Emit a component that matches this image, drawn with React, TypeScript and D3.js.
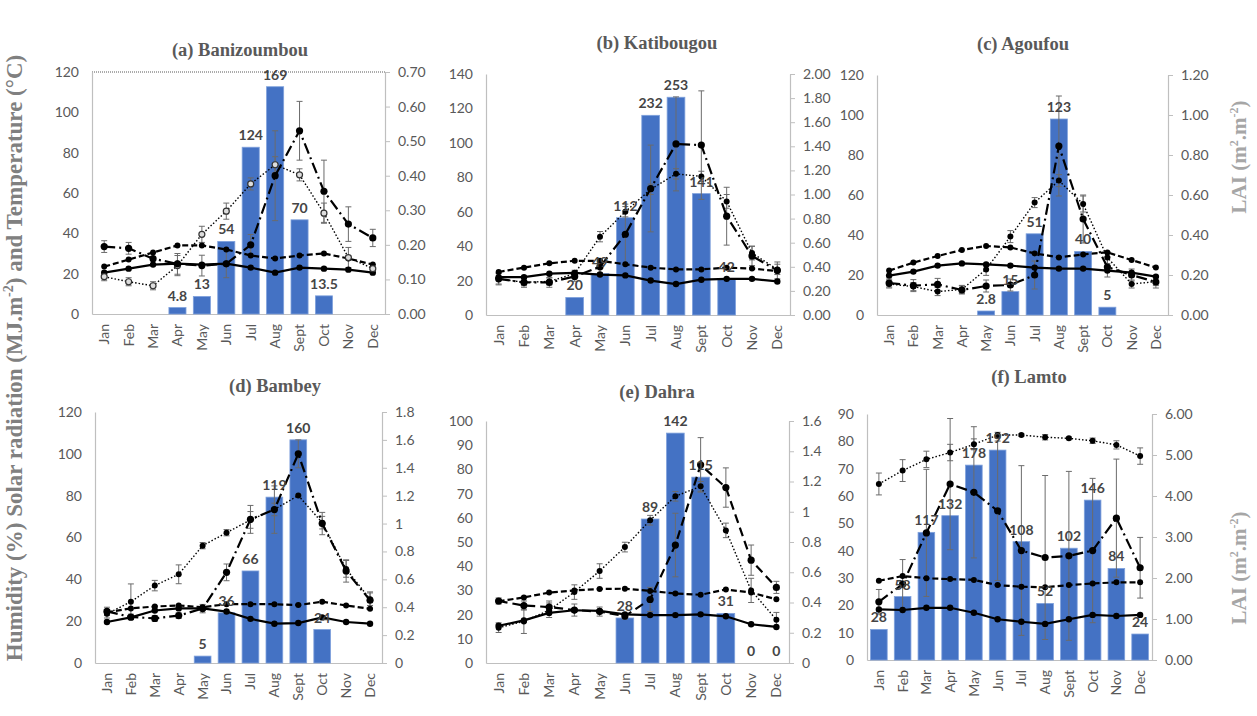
import React, { useEffect, useRef } from 'react'
import * as d3 from 'd3'

const months = ['Jan', 'Feb', 'Mar', 'Apr', 'May', 'Jun', 'Jul', 'Aug', 'Sept', 'Oct', 'Nov', 'Dec']

// (a) Banizoumbou
const banRain = [0, 0, 0, 3.2, 8.7, 36, 82.7, 112.7, 46.7, 9, 0, 0]
const banRainLabels = ['', '', '', '4.8', '13', '54', '124', '169', '70', '13.5', '', '']
const banSolar = [20.5, 22.5, 24.5, 25, 24.5, 25, 23, 20.5, 23, 22.5, 22, 20.5]
const banTemp = [23.5, 27, 30.5, 34, 34, 32, 29, 27.5, 29, 30, 27.5, 24.5]
const banHum = [18.5, 16, 14, 24, 39.5, 51, 64.5, 74, 69, 50, 28, 22.5]
const banHumErr = [2, 2, 2, 5, 4, 4, 3, 4, 3, 5, 5, 2]
const banLai = [0.195, 0.19, 0.16, 0.145, 0.14, 0.145, 0.2, 0.4, 0.53, 0.355, 0.26, 0.22]
const banLaiErr = [0.017, 0.017, 0.017, 0.03, 0.03, 0.04, 0.03, 0.13, 0.085, 0.09, 0.05, 0.025]

// (b) Katibougou
const katRain = [0, 0, 0, 10.2, 24, 56.5, 116, 126.5, 70.5, 21, 0, 0]
const katRainLabels = ['', '', '', '20', '49', '112', '232', '253', '141', '42', '', '']
const katSolar = [22, 22, 24, 24.5, 23.5, 23, 20, 18, 20.5, 21, 21, 19.5]
const katTemp = [25, 27.5, 30, 31.5, 31.5, 29.5, 27.5, 26.5, 26.5, 27.5, 27, 25.5]
const katHum = [21, 19, 19.5, 24, 45.5, 60, 73, 82, 80.5, 66, 36, 26.5]
const katHumErr = [3, 2, 2, 2, 3, 3, 3, 3, 3, 4, 4, 3]
const katLai = [0.3, 0.27, 0.27, 0.32, 0.4, 0.67, 1.05, 1.42, 1.41, 0.82, 0.49, 0.37]
const katLaiErr = [0.05, 0.04, 0.04, 0.04, 0.05, 0.25, 0.36, 0.39, 0.45, 0.24, 0.08, 0.07]

// (c) Agoufou
const agoRain = [0, 0, 0, 0, 2, 11.7, 40.6, 98, 31.8, 3.9, 0, 0]
const agoRainLabels = ['', '', '', '', '2.8', '15', '51', '123', '40', '5', '', '']
const agoSolar = [19.7, 21.7, 24.7, 25.8, 25.3, 24.7, 23.7, 23.2, 23.2, 22.2, 21.2, 19.2]
const agoTemp = [22.2, 26.2, 29.5, 32.5, 34.5, 33.8, 30.8, 28.8, 30.3, 31.3, 27.5, 23.7]
const agoHum = [15.5, 14.2, 11.7, 12.8, 22.8, 39.2, 56.2, 67.2, 55.5, 28.7, 15.5, 16.7]
const agoHumErr = [2, 2, 2, 2, 3, 3, 2.5, 3, 4, 3, 2, 2]
const agoLai = [0.16, 0.147, 0.153, 0.125, 0.145, 0.15, 0.2, 0.845, 0.48, 0.24, 0.2, 0.165]
const agoLaiErr = [0.02, 0.03, 0.03, 0.02, 0.03, 0.03, 0.07, 0.25, 0.12, 0.05, 0.03, 0.03]

// (d) Bambey
const bamRain = [0, 0, 0, 0, 3.3, 24, 44, 79.3, 106.7, 16, 0, 0]
const bamRainLabels = ['', '', '', '', '5', '36', '66', '119', '160', '24', '', '']
const bamSolar = [19.6, 21.8, 25.1, 26.1, 26.1, 24.6, 21.1, 18.8, 19.1, 21.8, 19.6, 18.8]
const bamTemp = [24.2, 26.1, 27, 27.5, 26.7, 28.1, 28.1, 28.1, 27.7, 29.3, 27.5, 25.9]
const bamHum = [23.5, 29.3, 37, 42.4, 56.1, 62.3, 68.4, 73.4, 80.1, 67.1, 45, 30.5]
const bamHumErr = [2, 8.5, 2.5, 4.5, 1.5, 1.5, 4, 3, 0.5, 3, 4, 3]
const bamLai = [0.37, 0.33, 0.32, 0.34, 0.39, 0.65, 1.03, 1.1, 1.5, 1.0, 0.66, 0.45]
const bamLaiErr = [0.03, 0.02, 0.02, 0.02, 0.03, 0.06, 0.1, 0.17, 0.1, 0.08, 0.08, 0.06]

// (e) Dahra
const dahRain = [0, 0, 0, 0, 0, 18.6, 59.5, 95, 76.8, 20.5, 0, 0]
const dahRainLabels = ['', '', '', '', '', '28', '89', '142', '115', '31', '0', '0']
const dahSolar = [15.4, 17.6, 20.7, 21.8, 21.5, 20.1, 19.8, 19.8, 20.1, 19.3, 16, 14.9]
const dahTemp = [25.5, 27.1, 29.1, 30, 30.6, 30.7, 29.8, 28.7, 28.2, 30.4, 29.1, 26.3]
const dahHum = [14.6, 17.2, 21.8, 29.3, 38, 47.9, 59, 68.9, 73, 54.8, 30, 17.9]
const dahHumErr = [2, 5, 3, 3, 3, 2, 2, 2, 2, 3, 5, 3]
const dahLai = [0.41, 0.38, 0.37, 0.35, 0.34, 0.31, 0.42, 0.78, 1.31, 1.16, 0.68, 0.5]
const dahLaiErr = [0.02, 0.03, 0.04, 0.04, 0.03, 0.02, 0.08, 0.21, 0.18, 0.13, 0.1, 0.04]

// (f) Lamto
const lamRain = [11.2, 23.2, 46.7, 52.8, 71.3, 76.8, 43.3, 20.7, 40.9, 58.5, 33.5, 9.5]
const lamRainLabels = ['28', '58', '117', '132', '178', '192', '108', '52', '102', '146', '84', '24']
const lamSolar = [18.5, 18.3, 19.1, 19.1, 17.3, 14.9, 14, 13.2, 14.9, 16.5, 16.1, 16.5]
const lamTemp = [29, 30.7, 29.9, 29.6, 29.3, 27.4, 26.8, 26.6, 27.4, 28, 28.4, 28.4]
const lamHum = [64.4, 69.3, 73.4, 75.9, 78.9, 82.3, 82.3, 81.5, 81.1, 80.2, 78.7, 74.6]
const lamHumErr = [4, 4, 3, 3, 2, 1, 0.5, 1, 0.5, 1, 1.5, 3]
const lamLai = [1.42, 1.85, 3.1, 4.29, 4.09, 3.64, 2.67, 2.5, 2.54, 2.67, 3.46, 2.25]
const lamLaiErr = [0.3, 0.6, 1.55, 1.6, 1.6, 1.7, 2.07, 2.0, 2.06, 1.76, 1.44, 0.74]

const fmt2 = d3.format('.2f')
const fmtShort = (d) => String(+d.toFixed(1))

const panels = [
  { title: '(a) Banizoumbou', tx: 240, ty: 56, x0: 92, x1: 385, y0: 72, y1: 314, lMax: 120, lStep: 20, rMax: 0.7, rStep: 0.1, rFmt: fmt2,
    rain: banRain, labels: banRainLabels, solar: banSolar, temp: banTemp, hum: banHum, humErr: banHumErr, lai: banLai, laiErr: banLaiErr, topBorder: true, openHum: true },
  { title: '(b) Katibougou', tx: 657, ty: 49, x0: 486, x1: 790, y0: 74, y1: 315, lMax: 140, lStep: 20, rMax: 2, rStep: 0.2, rFmt: fmt2,
    rain: katRain, labels: katRainLabels, solar: katSolar, temp: katTemp, hum: katHum, humErr: katHumErr, lai: katLai, laiErr: katLaiErr },
  { title: '(c) Agoufou', tx: 1023, ty: 50, x0: 877, x1: 1168, y0: 75, y1: 315, lMax: 120, lStep: 20, rMax: 1.2, rStep: 0.2, rFmt: fmt2,
    rain: agoRain, labels: agoRainLabels, solar: agoSolar, temp: agoTemp, hum: agoHum, humErr: agoHumErr, lai: agoLai, laiErr: agoLaiErr },
  { title: '(d) Bambey', tx: 275, ty: 392, x0: 95, x1: 382, y0: 412, y1: 663, lMax: 120, lStep: 20, rMax: 1.8, rStep: 0.2, rFmt: fmtShort,
    rain: bamRain, labels: bamRainLabels, solar: bamSolar, temp: bamTemp, hum: bamHum, humErr: bamHumErr, lai: bamLai, laiErr: bamLaiErr },
  { title: '(e) Dahra', tx: 657, ty: 398, x0: 486, x1: 789, y0: 421, y1: 663, lMax: 100, lStep: 10, rMax: 1.6, rStep: 0.2, rFmt: fmtShort,
    rain: dahRain, labels: dahRainLabels, solar: dahSolar, temp: dahTemp, hum: dahHum, humErr: dahHumErr, lai: dahLai, laiErr: dahLaiErr, laiDash: '9,5' },
  { title: '(f) Lamto', tx: 1029, ty: 383, x0: 867, x1: 1152, y0: 414, y1: 660, lMax: 90, lStep: 10, rMax: 6, rStep: 1, rFmt: fmt2,
    rain: lamRain, labels: lamRainLabels, solar: lamSolar, temp: lamTemp, hum: lamHum, humErr: lamHumErr, lai: lamLai, laiErr: lamLaiErr },
]

const SANS = 'Lato, "Liberation Sans", sans-serif'
const SERIF = '"Liberation Serif", "DejaVu Serif", serif'
const GREY = '#595959'

function drawPanel(svg, p) {
  const g = svg.append('g')
  const x = d3.scaleBand().domain(months).range([p.x0, p.x1]).paddingInner(0.3).paddingOuter(0.15)
  const yL = d3.scaleLinear().domain([0, p.lMax]).range([p.y1, p.y0])
  const yR = d3.scaleLinear().domain([0, p.rMax]).range([p.y1, p.y0])
  const cx = (i) => x(months[i]) + x.bandwidth() / 2

  g.append('text').text(p.title)
    .attr('x', p.tx).attr('y', p.ty).attr('text-anchor', 'middle')
    .attr('font-family', SERIF).attr('font-weight', 'bold').attr('font-size', 18.5).attr('fill', GREY)

  if (p.topBorder) {
    g.append('line').attr('x1', p.x0).attr('x2', p.x1).attr('y1', p.y0).attr('y2', p.y0)
      .attr('stroke', '#595959').attr('stroke-dasharray', '1,1')
  }

  // axes
  const lTicks = d3.range(0, p.lMax + p.lStep / 2, p.lStep)
  const rTicks = d3.range(0, p.rMax + p.rStep / 2, p.rStep)

  const la = g.append('g').attr('transform', `translate(${p.x0},0)`)
    .call(d3.axisLeft(yL).tickValues(lTicks).tickSize(0).tickSizeOuter(0).tickPadding(13))
  const ra = g.append('g').attr('transform', `translate(${p.x1},0)`)
    .call(d3.axisRight(yR).tickValues(rTicks).tickSize(5).tickSizeOuter(0).tickPadding(8).tickFormat(p.rFmt))
  const ba = g.append('g').attr('transform', `translate(0,${p.y1})`)
    .call(d3.axisBottom(x).tickSize(0).tickSizeOuter(0).tickPadding(0))
  ;[la, ra, ba].forEach(a => {
    a.attr('font-family', SANS).attr('font-size', 14)
    a.selectAll('path.domain').attr('stroke', '#bfbfbf').attr('stroke-width', 1.2)
    a.selectAll('line').attr('stroke', '#bfbfbf')
    a.selectAll('text').attr('fill', GREY)
  })
  ba.selectAll('text')
    .attr('transform', 'rotate(-90)').attr('x', -10).attr('y', 0).attr('dy', '0.35em')
    .attr('text-anchor', 'end').attr('font-size', 14)

  // rainfall bars
  const rainData = p.rain.map((v, i) => ({ v, i, label: p.labels[i] }))
  g.selectAll('rect.bar').data(rainData.filter(d => d.v > 0)).enter().append('rect')
    .attr('x', d => x(months[d.i])).attr('width', x.bandwidth())
    .attr('y', d => yL(d.v)).attr('height', d => p.y1 - yL(d.v))
    .attr('fill', '#4472C4').attr('stroke', '#7fa1dc').attr('stroke-width', 0.8)

  // error bars
  const errBars = (vals, errs, scale) => {
    vals.forEach((v, i) => {
      const e = errs[i]
      if (!e) return
      const x0 = cx(i)
      const top = scale(v + e), bot = scale(Math.max(0, v - e))
      const eg = g.append('g').attr('stroke', '#6b6b6b').attr('stroke-width', 1)
      eg.append('line').attr('x1', x0).attr('x2', x0).attr('y1', top).attr('y2', bot)
      eg.append('line').attr('x1', x0 - 3).attr('x2', x0 + 3).attr('y1', top).attr('y2', top)
      eg.append('line').attr('x1', x0 - 3).attr('x2', x0 + 3).attr('y1', bot).attr('y2', bot)
    })
  }
  errBars(p.hum, p.humErr, yL)
  errBars(p.lai, p.laiErr, yR)

  const series = [
    { vals: p.solar, scale: yL, dash: null, w: 2.2, r: 3.2 },
    { vals: p.temp, scale: yL, dash: '6,3', w: 2.2, r: 3 },
    { vals: p.hum, scale: yL, dash: '1.5,2', w: 1.4, r: 3, open: p.openHum },
    { vals: p.lai, scale: yR, dash: p.laiDash || '11,4,2,4', w: 2.2, r: 3.6 },
  ]
  series.forEach(s => {
    const line = d3.line().x((d, i) => cx(i)).y(d => s.scale(d))
    g.append('path').datum(s.vals).attr('d', line)
      .attr('fill', 'none').attr('stroke', '#000').attr('stroke-width', s.w)
      .attr('stroke-dasharray', s.dash)
    g.selectAll(null).data(s.vals).enter().append('circle')
      .attr('cx', (d, i) => cx(i)).attr('cy', d => s.scale(d)).attr('r', s.r)
      .attr('fill', s.open ? '#ddd' : '#000').attr('stroke', s.open ? '#333' : 'none').attr('stroke-width', 1.2)
  })

  // rainfall labels
  g.selectAll('text.lbl').data(rainData.filter(d => d.label !== '')).enter().append('text')
    .text(d => d.label)
    .attr('x', d => cx(d.i)).attr('y', d => yL(d.v) - 7)
    .attr('text-anchor', 'middle').attr('font-family', SANS).attr('font-weight', 'bold')
    .attr('font-size', 14).attr('fill', '#454545')
}

function render(svgEl) {
  const svg = d3.select(svgEl)
  svg.selectAll('*').remove()
  panels.forEach(p => drawPanel(svg, p))

  const yt = svg.append('text')
    .attr('transform', 'translate(22,358) rotate(-90)').attr('text-anchor', 'middle')
    .attr('font-family', SERIF).attr('font-weight', 'bold').attr('font-size', 23).attr('fill', '#808080')
  yt.append('tspan').text('Humidity (%) Solar radiation (MJ.m')
  yt.append('tspan').text('-2').attr('font-size', 14).attr('dy', -9)
  yt.append('tspan').text(') and Temperature (°C)').attr('dy', 9)

  ;[[1246, 157], [1246, 568]].forEach(([tx, ty]) => {
    const t = svg.append('text')
      .attr('transform', `translate(${tx},${ty}) rotate(-90)`).attr('text-anchor', 'middle')
      .attr('font-family', SERIF).attr('font-weight', 'bold').attr('font-size', 21).attr('fill', '#a6a6a6')
    t.append('tspan').text('LAI (m')
    t.append('tspan').text('2').attr('font-size', 12).attr('dy', -8)
    t.append('tspan').text('.m').attr('dy', 8)
    t.append('tspan').text('-2').attr('font-size', 12).attr('dy', -8)
    t.append('tspan').text(')').attr('dy', 8)
  })
}

export default function App() {
  const ref = useRef(null)
  useEffect(() => {
    render(ref.current)
  })
  return (
    <svg ref={ref} width={1257} height={716}
      style={{ position: 'absolute', left: 0, top: 0, background: '#fff' }} />
  )
}
